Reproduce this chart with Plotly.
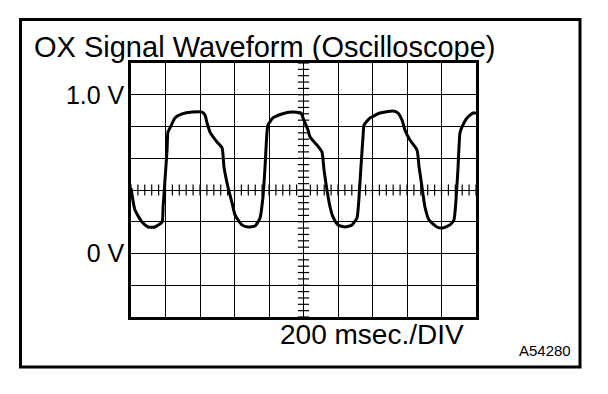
import numpy as np
import plotly.graph_objects as go

# Oscilloscope trace: time (ms) and voltage (V)
time_ms = [0, 23, 64, 99, 139, 180, 186, 197, 209, 214, 226, 255, 296, 354, 412, 429, 441, 458,
           499, 528, 539, 562, 586, 603, 643, 678, 719, 748, 765, 777, 788, 794, 823, 875, 933,
           986, 997, 1026, 1038, 1078, 1107, 1119, 1136, 1154, 1171, 1200, 1241, 1281, 1310,
           1322, 1333, 1345, 1351, 1386, 1443, 1519, 1548, 1571, 1588, 1617, 1658, 1670, 1687,
           1704, 1728, 1774, 1809, 1849, 1872, 1884, 1896, 1907, 1919, 1948, 1983, 2000]
volts = [0.413, 0.274, 0.198, 0.167, 0.167, 0.198, 0.293, 0.463, 0.652, 0.765, 0.791, 0.854,
         0.879, 0.891, 0.891, 0.872, 0.822, 0.765, 0.702, 0.665, 0.545, 0.419, 0.318, 0.243,
         0.180, 0.167, 0.173, 0.224, 0.356, 0.545, 0.759, 0.809, 0.854, 0.879, 0.891, 0.885,
         0.854, 0.778, 0.734, 0.683, 0.639, 0.526, 0.400, 0.293, 0.230, 0.180, 0.167, 0.180,
         0.224, 0.356, 0.545, 0.734, 0.809, 0.854, 0.885, 0.898, 0.885, 0.841, 0.778, 0.715,
         0.652, 0.545, 0.419, 0.293, 0.211, 0.167, 0.161, 0.180, 0.211, 0.337, 0.545, 0.759,
         0.797, 0.854, 0.885, 0.885]

# Screen settings
x_range = [0, 2000]      # 10 divisions x 200 ms
y_range = [-0.4, 1.2]    # 8 divisions x 0.2 V
x_div = 200
y_div = 0.2
minor_per_div = 5
y_tick_vals = [round(v, 1) for v in np.arange(y_range[0], y_range[1] + 1e-9, y_div)]
y_tick_text = ["1.0 V" if abs(v - 1.0) < 1e-9 else ("0 V" if abs(v) < 1e-9 else "") for v in y_tick_vals]

title_text = "OX Signal Waveform (Oscilloscope)"
time_label = "200 msec./DIV"
figure_id = "A54280"

x_center = (x_range[0] + x_range[1]) / 2
y_center = (y_range[0] + y_range[1]) / 2
x_minor = np.arange(x_range[0], x_range[1] + 1e-9, x_div / minor_per_div)
y_minor = np.arange(y_range[0], y_range[1] + 1e-9, y_div / minor_per_div)

FONT = "Liberation Sans, Arial, Helvetica, sans-serif"

fig = go.Figure()

# minor ticks on the horizontal center line
fig.add_trace(go.Scatter(
    x=x_minor, y=[y_center] * len(x_minor), mode="markers",
    marker=dict(symbol="line-ns-open", size=8, color="black", line=dict(color="black", width=1.2)),
    hoverinfo="skip", showlegend=False))
# minor ticks on the vertical center line
fig.add_trace(go.Scatter(
    x=[x_center] * len(y_minor), y=y_minor, mode="markers",
    marker=dict(symbol="line-ew-open", size=8, color="black", line=dict(color="black", width=1.2)),
    hoverinfo="skip", showlegend=False))

# waveform
fig.add_trace(go.Scatter(
    x=time_ms, y=volts, mode="lines",
    line=dict(color="black", width=3, shape="spline", smoothing=0.5),
    hoverinfo="skip", showlegend=False))

fig.update_xaxes(
    range=x_range, dtick=x_div, tick0=0, showgrid=True, gridcolor="black", gridwidth=1.3,
    zeroline=False, showticklabels=False, ticks="",
    showline=True, linecolor="black", linewidth=2.5, mirror=True, fixedrange=True)
fig.update_yaxes(
    range=y_range, tickmode="array", tickvals=y_tick_vals, ticktext=y_tick_text,
    showgrid=True, gridcolor="black", gridwidth=1.3, zeroline=False, ticks="",
    tickfont=dict(family=FONT, size=25, color="black"), ticklabelstandoff=-1,
    showline=True, linecolor="black", linewidth=2.5, mirror=True, fixedrange=True)

W, H = 608, 394
L, R, T, B = 131, 132, 63, 77
pw, ph = W - L - R, H - T - B

def px_x(p):
    return (p - L) / pw

def px_y(p):
    return (H - B - p) / ph

fig.add_annotation(text=title_text, xref="paper", yref="paper", x=px_x(32), y=px_y(47),
                   xanchor="left", yanchor="middle", showarrow=False,
                   font=dict(family=FONT, size=29, color="black"))
fig.add_annotation(text=time_label, xref="paper", yref="paper", x=px_x(466), y=px_y(334),
                   xanchor="right", yanchor="middle", showarrow=False,
                   font=dict(family=FONT, size=28, color="black"))
fig.add_annotation(text=figure_id, xref="paper", yref="paper", x=px_x(573), y=px_y(350),
                   xanchor="right", yanchor="middle", showarrow=False,
                   font=dict(family=FONT, size=15, color="black"))

# outer frame
fig.add_shape(type="rect", xref="paper", yref="paper",
              x0=px_x(20.5), x1=px_x(580), y0=px_y(367), y1=px_y(19.5),
              line=dict(color="black", width=3), fillcolor="rgba(0,0,0,0)", layer="below")

fig.update_layout(
    width=W, height=H, margin=dict(l=L, r=R, t=T, b=B, pad=0),
    paper_bgcolor="white", plot_bgcolor="white", showlegend=False,
    font=dict(family=FONT, color="black"))

fig.write_html("out.html", config={"displayModeBar": False},
               post_script="document.body.style.margin='0';document.body.style.overflow='hidden';")
